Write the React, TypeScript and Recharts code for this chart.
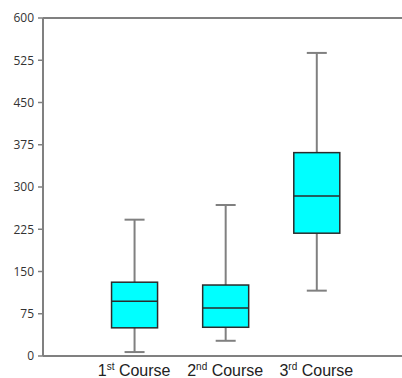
import { ComposedChart, Bar, XAxis, YAxis, ReferenceLine } from "recharts";

const POSITIONS = [1, 2, 3];
const ORDINALS = ["1", "2", "3"];
const SUFFIXES = ["st", "nd", "rd"];
const MINS = [7, 27, 116];
const Q1S = [50, 51, 218];
const MEDIANS = [97, 85, 284];
const Q3S = [131, 126, 361];
const MAXS = [242, 268, 538];
const Y_TICKS = [0, 75, 150, 225, 300, 375, 450, 525, 600];

const AXIS_GREY = "#808080";

const data = POSITIONS.map((x, i) => ({
  x,
  min: MINS[i],
  q1: Q1S[i],
  median: MEDIANS[i],
  q3: Q3S[i],
  max: MAXS[i],
}));

// draws one box + whiskers from the bar's min..max range, interpolating the quartiles on the same scale
const BoxShape = (props: any) => {
  const { x, y, width, height, payload } = props;
  const top = Math.min(y, y + height);
  const bottom = Math.max(y, y + height);
  const perUnit = (bottom - top) / (payload.max - payload.min);
  const yOf = (v: number) => bottom - (v - payload.min) * perUnit;
  const cx = x + width / 2;
  const capHalf = 10;
  return (
    <g>
      <line x1={cx} x2={cx} y1={yOf(payload.max)} y2={yOf(payload.q3)} stroke={AXIS_GREY} strokeWidth={2} />
      <line x1={cx} x2={cx} y1={yOf(payload.q1)} y2={yOf(payload.min)} stroke={AXIS_GREY} strokeWidth={2} />
      <line x1={cx - capHalf} x2={cx + capHalf} y1={yOf(payload.max)} y2={yOf(payload.max)} stroke={AXIS_GREY} strokeWidth={2} />
      <line x1={cx - capHalf} x2={cx + capHalf} y1={yOf(payload.min)} y2={yOf(payload.min)} stroke={AXIS_GREY} strokeWidth={2} />
      <rect
        x={x}
        y={yOf(payload.q3)}
        width={width}
        height={yOf(payload.q1) - yOf(payload.q3)}
        fill="#00FFFF"
        stroke="#2b2b2b"
        strokeWidth={1.5}
      />
      <line x1={x} x2={x + width} y1={yOf(payload.median)} y2={yOf(payload.median)} stroke="#2b2b2b" strokeWidth={1.5} />
    </g>
  );
};

const CourseTick = (props: any) => {
  const { x, y, payload } = props;
  const i = POSITIONS.indexOf(payload.value);
  if (i < 0) return null;
  return (
    <text x={x} y={y} dy={20} textAnchor="middle" fill="#222" fontSize={16} fontFamily="'Liberation Sans', Arial, sans-serif">
      <tspan>{ORDINALS[i]}</tspan>
      <tspan fontSize={10} dy={-6}>{SUFFIXES[i]}</tspan>
      <tspan dy={6}> Course</tspan>
    </text>
  );
};

export default function App() {
  return (
    <div style={{ position: "absolute", left: 0, top: 0, width: 402, height: 378, background: "#fff" }}>
      <ComposedChart width={402} height={378} data={data} margin={{ top: 18, right: 0, bottom: 0, left: 0 }}>
        <XAxis
          dataKey="x"
          type="number"
          domain={[0, 3.94]}
          ticks={POSITIONS}
          allowDataOverflow
          height={22}
          tickSize={0}
          tickMargin={0}
          tickLine={false}
          axisLine={{ stroke: AXIS_GREY, strokeWidth: 2 }}
          tick={<CourseTick />}
        />
        <YAxis
          domain={[0, 600]}
          ticks={Y_TICKS}
          width={43}
          tickSize={5}
          tickMargin={4}
          axisLine={{ stroke: AXIS_GREY, strokeWidth: 2 }}
          tickLine={{ stroke: AXIS_GREY, strokeWidth: 1.5 }}
          tick={{ fill: "#333", fontSize: 12, fontFamily: "'Open Sans', sans-serif" }}
        />
        <ReferenceLine y={600} stroke={AXIS_GREY} strokeWidth={2} />
        <Bar
          dataKey={(d: any) => [d.min, d.max]}
          barSize={46}
          shape={<BoxShape />}
          isAnimationActive={false}
        />
      </ComposedChart>
    </div>
  );
}
